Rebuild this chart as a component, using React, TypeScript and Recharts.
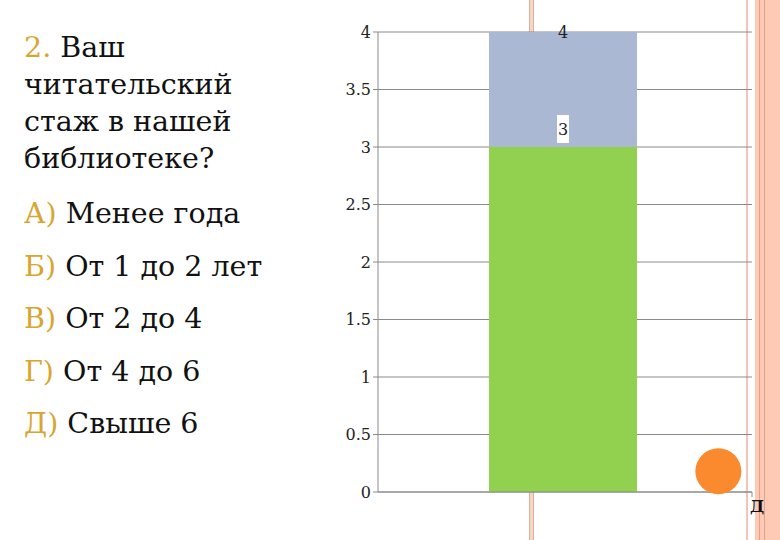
import React from "react";
import {
  ComposedChart,
  Bar,
  Scatter,
  XAxis,
  YAxis,
  CartesianGrid,
  LabelList,
} from "recharts";

const categories = ["Стаж"];
const upperValues = [4];
const lowerValues = [3];
const dotX = [0.91];
const dotY = [0.18];
const yTicks = [0, 0.5, 1, 1.5, 2, 2.5, 3, 3.5, 4];
const edgeLabels = ["Д"];

const questionLines = ["Ваш", "читательский", "стаж в нашей", "библиотеке?"];
const optionLetters = ["А)", "Б)", "В)", "Г)", "Д)"];
const optionTexts = ["Менее года", "От 1 до 2 лет", "От 2 до 4", "От 4 до 6", "Свыше 6"];

const barData = categories.map((name, i) => ({
  name,
  upper: upperValues[i],
  lower: lowerValues[i],
}));
const dotData = dotX.map((x, i) => ({ x, y: dotY[i] }));

const serif = "'DejaVu Serif', serif";
const gold = "#D8A630";
const gridGray = "#8a8a8a";

const UpperLabel = (props: any) => {
  const { x, y, width, value } = props;
  return (
    <text
      x={x + width / 2}
      y={y}
      dy="0.35em"
      textAnchor="middle"
      fontFamily={serif}
      fontSize={16}
      fill="#222"
    >
      {value}
    </text>
  );
};

const LowerLabel = (props: any) => {
  const { x, y, width, value } = props;
  const cx = x + width / 2;
  return (
    <g>
      <rect x={cx - 6} y={y - 32} width={12} height={28} fill="#fff" />
      <text
        x={cx}
        y={y - 18}
        dy="0.35em"
        textAnchor="middle"
        fontFamily={serif}
        fontSize={16}
        fill="#222"
      >
        {value}
      </text>
    </g>
  );
};

const YTick = (props: any) => {
  const { x, y, payload } = props;
  return (
    <text x={x} y={y} dy="0.35em" textAnchor="end" fontFamily={serif} fontSize={16} fill="#222">
      {payload.value}
    </text>
  );
};

const EdgeTick = (props: any) => {
  const { x, y } = props;
  return (
    <text x={x + 5} y={y} dy="0.8em" textAnchor="middle" fontFamily={serif} fontSize={16} fontWeight="bold" fill="#111">
      {edgeLabels[0]}
    </text>
  );
};

export default function App() {
  return (
    <div
      style={{
        position: "absolute",
        left: 0,
        top: 0,
        width: 780,
        height: 540,
        background: "#fff",
        overflow: "hidden",
        fontFamily: serif,
      }}
    >
      {/* slide decoration */}
      <div style={{ position: "absolute", left: 529, top: 0, width: 5, height: 540, background: "#F3D6C8", borderLeft: "1px solid #E2AF96", borderRight: "1px solid #E2AF96", boxSizing: "border-box" }} />
      <div style={{ position: "absolute", left: 746, top: 0, width: 2, height: 540, background: "#F3C5BA" }} />
      <div style={{ position: "absolute", left: 755, top: 0, width: 25, height: 540, background: "#FFCAB5" }} />
      <div style={{ position: "absolute", left: 759, top: 0, width: 1, height: 540, background: "#E9A184" }} />
      <div style={{ position: "absolute", left: 764, top: 0, width: 1, height: 540, background: "#E9A184" }} />

      {/* question */}
      {questionLines.map((line, i) => (
        <div
          key={line}
          style={{
            position: "absolute",
            left: 24,
            top: 29 + i * 37,
            fontSize: 28.5,
            lineHeight: "37px",
            color: "#111",
            whiteSpace: "nowrap",
          }}
        >
          {i === 0 && <span style={{ color: gold }}>2. </span>}
          {line}
        </div>
      ))}
      {optionTexts.map((t, i) => (
        <div
          key={t}
          style={{
            position: "absolute",
            left: 24,
            top: 195 + i * 52.5,
            fontSize: 28.5,
            lineHeight: "37px",
            color: "#111",
            whiteSpace: "nowrap",
          }}
        >
          <span style={{ color: gold }}>{optionLetters[i]}</span> {t}
        </div>
      ))}

      <div style={{ position: "absolute", left: 330, top: 0 }}>
        <ComposedChart
          width={450}
          height={540}
          data={barData}
          margin={{ top: 32, right: 28, left: 0, bottom: 18 }}
        >
          <CartesianGrid xAxisId="s" vertical={false} stroke={gridGray} />
          <XAxis
            xAxisId="s"
            dataKey="x"
            type="number"
            domain={[0, 1]}
            ticks={[1]}
            height={30}
            stroke={gridGray}
            tickSize={5}
            tick={EdgeTick}
          />
          <XAxis xAxisId="u" dataKey="name" type="category" hide height={0} padding={{ left: 0, right: 4 }} />
          <XAxis xAxisId="l" dataKey="name" type="category" hide height={0} padding={{ left: 0, right: 4 }} />
          <YAxis
            width={48}
            domain={[0, 4]}
            ticks={yTicks}
            stroke={gridGray}
            tickSize={5}
            tick={YTick}
          />
          <Bar xAxisId="u" dataKey="upper" fill="#ABB8D4" barSize={148} isAnimationActive={false}>
            <LabelList dataKey="upper" content={UpperLabel} />
          </Bar>
          <Bar xAxisId="l" dataKey="lower" fill="#92D050" barSize={148} isAnimationActive={false}>
            <LabelList dataKey="lower" content={LowerLabel} />
          </Bar>
          <Scatter
            xAxisId="s"
            data={dotData}
            dataKey="y"
            isAnimationActive={false}
            shape={(p: any) => <circle cx={p.cx} cy={p.cy} r={23} fill="#FB8A2E" />}
          />
        </ComposedChart>
      </div>
    </div>
  );
}
